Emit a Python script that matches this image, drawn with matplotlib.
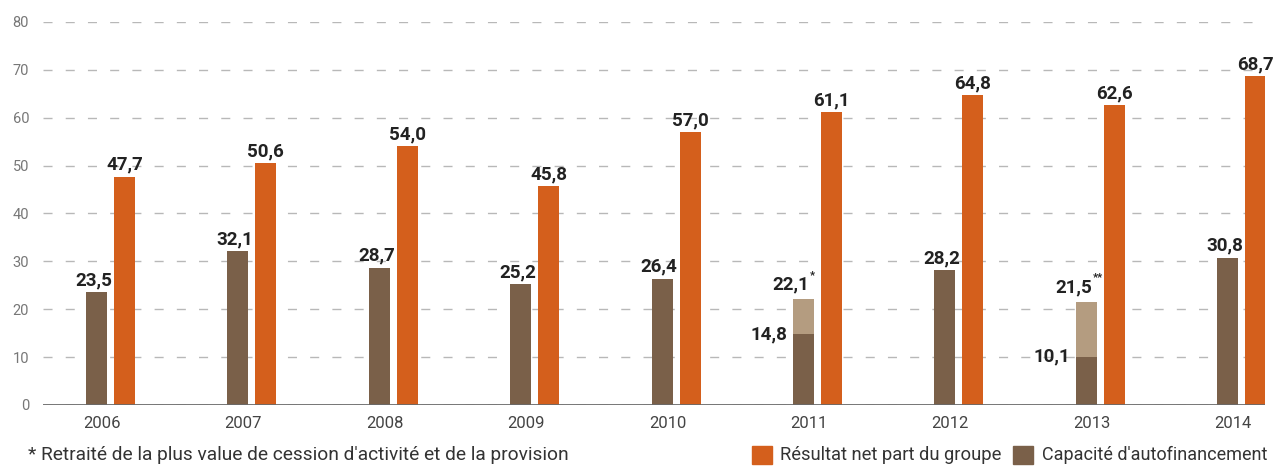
import numpy as np
import matplotlib
matplotlib.use("Agg")
from matplotlib import pyplot as plt
from matplotlib.patches import Rectangle

years = ["2006", "2007", "2008", "2009", "2010", "2011", "2012", "2013", "2014"]
resultat = [47.7, 50.6, 54.0, 45.8, 57.0, 61.1, 64.8, 62.6, 68.7]
caf = [23.5, 32.1, 28.7, 25.2, 26.4, 14.8, 28.2, 10.1, 30.8]
caf_retraitee = [np.nan, np.nan, np.nan, np.nan, np.nan, 22.1, np.nan, 21.5, np.nan]
notes = ["", "", "", "", "", "*", "", "**", ""]

orange = "#D45F1C"
brun = "#7A6049"
brun_clair = "#B49C80"

plt.rcParams['font.family'] = ['Roboto', 'DejaVu Sans']

W, H = 1273, 467
fig = plt.figure(figsize=(W / 100, H / 100), dpi=100)
ax = fig.add_axes([43 / W, 62 / H, 1222 / W, 383 / H])

x = np.arange(len(years))
w = 0.149
d = 0.099

# partie retraitée (clair) derrière la CAF
for i, v in enumerate(caf_retraitee):
    if not np.isnan(v):
        ax.bar(x[i] - d, v - caf[i], w, bottom=caf[i], color=brun_clair, zorder=3)
ax.bar(x - d, caf, w, color=brun, zorder=3)
ax.bar(x + d, resultat, w, color=orange, zorder=3)

ax.set_xlim(-0.477, 8.165)
ax.set_ylim(0, 80)
ax.set_yticks(range(0, 81, 10))
ax.set_xticks(x - 0.06)
ax.set_xticklabels(years)
ax.tick_params(axis='x', length=0, pad=8, labelsize=12, labelcolor="#444444")
ax.tick_params(axis='y', length=0, pad=10, labelsize=10.5, labelcolor="#777777")
for s in ax.spines.values():
    s.set_visible(False)
ax.grid(axis='y', color="#b8b8b8", linestyle=(0, (6.5, 9.5)), linewidth=1, zorder=0)
ax.axhline(0, color="#6a6a6a", linewidth=2, zorder=4)

fs = 13.5
lab = dict(fontsize=fs, fontweight='bold', color="#222222", ha='center', va='bottom', zorder=5)
for i in range(len(years)):
    ax.annotate(f"{resultat[i]:.1f}".replace(".", ","), (x[i] + d, resultat[i]),
                xytext=(0, 2), textcoords='offset points', **lab)
    if np.isnan(caf_retraitee[i]):
        ax.annotate(f"{caf[i]:.1f}".replace(".", ","), (x[i] - d, caf[i]),
                    xytext=(-2, 2), textcoords='offset points', **lab)
    else:
        ax.annotate(f"{caf_retraitee[i]:.1f}".replace(".", ","), (x[i] - d, caf_retraitee[i]),
                    xytext=(-9, 4), textcoords='offset points', **lab)
        ax.annotate(notes[i], (x[i] - d, caf_retraitee[i]),
                    xytext=(4.5, 14), textcoords='offset points', fontsize=8,
                    fontweight='bold', color="#222222", ha='left', va='bottom')
        ax.annotate(f"{caf[i]:.1f}".replace(".", ","), (x[i] - d - w / 2, caf[i]),
                    xytext=(-4, 0), textcoords='offset points', fontsize=fs,
                    fontweight='bold', color="#222222", ha='right', va='center')

fig.text(28 / W, 1 - 455 / H, "* Retraité de la plus value de cession d'activité et de la provision",
         fontsize=13.8, color="#333333", ha='left', va='center')

# légende en bas à droite
fig.patches.append(Rectangle((752 / W, 1 - 464 / H), 20 / W, 18 / H,
                             transform=fig.transFigure, color=orange))
fig.text(780 / W, 1 - 455 / H, "Résultat net part du groupe", fontsize=13.2,
         color="#333333", ha='left', va='center')
fig.patches.append(Rectangle((1013 / W, 1 - 464 / H), 20 / W, 18 / H,
                             transform=fig.transFigure, color=brun))
fig.text(1042 / W, 1 - 455 / H, "Capacité d'autofinancement", fontsize=13,
         color="#333333", ha='left', va='center')

fig.savefig("out.png", dpi=100)
